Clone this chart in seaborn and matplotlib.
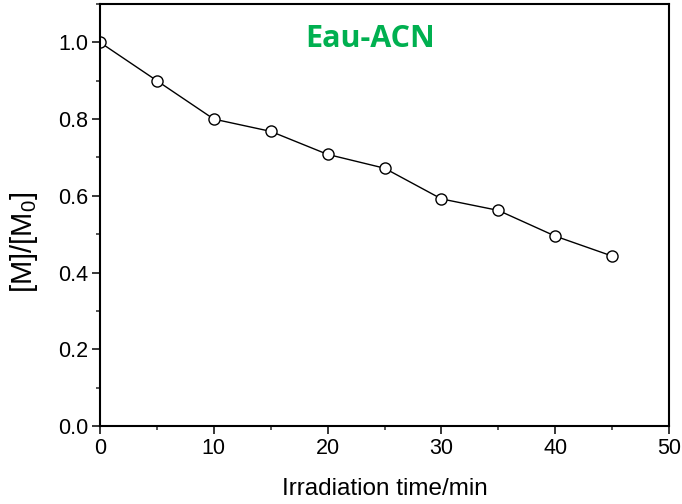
import matplotlib
matplotlib.use("Agg")
import matplotlib.pyplot as plt
import seaborn as sns
import pandas as pd
from matplotlib.ticker import MultipleLocator, FormatStrFormatter

time_min = [0, 5, 10, 15, 20, 25, 30, 35, 40, 45]
ratio = [1.0, 0.90, 0.80, 0.768, 0.708, 0.672, 0.592, 0.562, 0.495, 0.443]
title_text = "Eau-ACN"
x_label = "Irradiation time/min"
y_label = "[M]/[M$_0$]"

df = pd.DataFrame({"t": time_min, "r": ratio})

sns.set_theme(style="ticks")
plt.rcParams['font.family'] = ['Liberation Sans', 'DejaVu Sans']
plt.rcParams['mathtext.fontset'] = 'custom'
plt.rcParams['mathtext.rm'] = 'Liberation Sans'
plt.rcParams['mathtext.it'] = 'Liberation Sans'

fig = plt.figure(figsize=(6.82, 5.04), dpi=100)
ax = fig.add_axes([100/682, (504-426)/504, (669-100)/682, (426-4)/504])

sns.lineplot(data=df, x="t", y="r", ax=ax, color="black", linewidth=1.0,
             marker="o", markersize=8, markerfacecolor="white",
             markeredgecolor="black", markeredgewidth=1.0)

ax.set_xlim(0, 50)
ax.set_ylim(0, 1.1)
ax.xaxis.set_major_locator(MultipleLocator(10))
ax.xaxis.set_minor_locator(MultipleLocator(5))
ax.yaxis.set_major_locator(MultipleLocator(0.2))
ax.yaxis.set_minor_locator(MultipleLocator(0.1))
ax.yaxis.set_major_formatter(FormatStrFormatter('%.1f'))
ax.tick_params(which='major', direction='out', length=5.5, width=1.1, labelsize=15.5,
               top=False, right=False, colors='black', pad=3)
ax.tick_params(which='minor', direction='out', length=3, width=1.1,
               top=False, right=False)
for s in ax.spines.values():
    s.set_visible(True)
    s.set_linewidth(1.5)
    s.set_color('black')

ax.set_xlabel(x_label, fontsize=17.5, color='black')
ax.xaxis.set_label_coords(0.5, -(478-426)/422)
ax.xaxis.label.set_va('top')
ax.set_ylabel(y_label, fontsize=21, color='black')
ax.yaxis.set_label_coords((24-100)/569, (426-242)/422)
ax.yaxis.label.set_va('center')

ax.text(23.7, 1.01, title_text, color="#00B050", fontsize=22, fontweight='bold',
        family=['Open Sans', 'DejaVu Sans'], ha='center', va='center')

fig.savefig("out.png", dpi=100)
